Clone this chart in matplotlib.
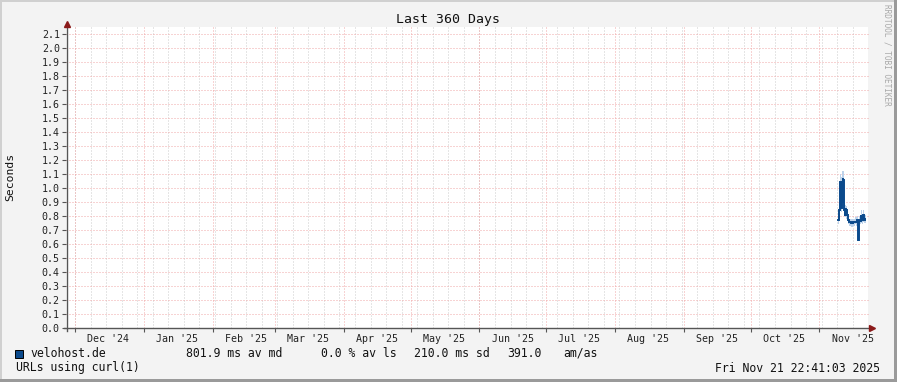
import matplotlib
matplotlib.use("Agg")
import matplotlib.pyplot as plt
from matplotlib.lines import Line2D
from matplotlib.patches import Rectangle
import pandas as pd

# ---------------- data ----------------
title = "Last 360 Days"
ylabel = "Seconds"
end_time = pd.Timestamp("2025-11-21 22:41:03")
span_days = 360

times = [
    "2025-11-09 12:00", "2025-11-09 21:36", "2025-11-10 07:12", "2025-11-10 12:00",
    "2025-11-10 16:48", "2025-11-10 21:36", "2025-11-11 02:24", "2025-11-11 07:12",
    "2025-11-11 12:00", "2025-11-11 16:48", "2025-11-11 21:36", "2025-11-12 02:24",
    "2025-11-12 07:12", "2025-11-12 12:00", "2025-11-12 16:48", "2025-11-12 21:36",
    "2025-11-13 02:24", "2025-11-13 07:12", "2025-11-13 12:00", "2025-11-13 16:48",
    "2025-11-13 21:36", "2025-11-14 04:48", "2025-11-14 19:12", "2025-11-15 09:36",
    "2025-11-15 21:36", "2025-11-16 07:12", "2025-11-16 19:12", "2025-11-17 07:12",
    "2025-11-17 16:48", "2025-11-18 04:48", "2025-11-18 09:36", "2025-11-18 21:36",
    "2025-11-19 07:12", "2025-11-19 14:24", "2025-11-19 21:36", "2025-11-20 04:48",
    "2025-11-20 12:00", "2025-11-20 20:00", "2025-11-21 03:00", "2025-11-21 12:00",
]
values = [
    0.77, 0.84, 1.04, 0.85, 1.03, 0.86, 1.05, 0.90, 1.07, 1.06,
    0.95, 0.84, 0.86, 0.80, 0.85, 0.82, 0.84, 0.80, 0.81, 0.79,
    0.77, 0.755, 0.755, 0.75, 0.74, 0.755, 0.76, 0.755, 0.77, 0.765,
    0.63, 0.77, 0.765, 0.81, 0.795, 0.77, 0.81, 0.795, 0.77, 0.78,
]
values_min = [
    0.74, 0.78, 0.84, 0.82, 0.84, 0.83, 0.85, 0.86, 0.90, 0.92,
    0.85, 0.80, 0.80, 0.78, 0.79, 0.78, 0.78, 0.77, 0.77, 0.75,
    0.74, 0.73, 0.73, 0.72, 0.72, 0.73, 0.74, 0.73, 0.74, 0.74,
    0.62, 0.74, 0.74, 0.76, 0.75, 0.74, 0.76, 0.75, 0.75, 0.75,
]
values_max = [
    0.79, 0.88, 1.10, 1.08, 1.10, 1.08, 1.12, 1.12, 1.13, 1.12,
    1.08, 0.90, 0.90, 0.88, 0.88, 0.87, 0.87, 0.85, 0.84, 0.82,
    0.80, 0.78, 0.78, 0.78, 0.77, 0.78, 0.79, 0.79, 0.80, 0.80,
    0.78, 0.80, 0.80, 0.84, 0.84, 0.80, 0.84, 0.83, 0.80, 0.81,
]

yticks = [0.0, 0.1, 0.2, 0.3, 0.4, 0.5, 0.6, 0.7, 0.8, 0.9, 1.0,
          1.1, 1.2, 1.3, 1.4, 1.5, 1.6, 1.7, 1.8, 1.9, 2.0, 2.1]
ymax = 2.15

month_labels = ["Dec '24", "Jan '25", "Feb '25", "Mar '25", "Apr '25", "May '25",
                "Jun '25", "Jul '25", "Aug '25", "Sep '25", "Oct '25", "Nov '25"]
month_label_dates = ["2024-12-16", "2025-01-16", "2025-02-16", "2025-03-16",
                     "2025-04-16", "2025-05-16", "2025-06-16", "2025-07-16",
                     "2025-08-16", "2025-09-16", "2025-10-16", "2025-11-16"]

legend_name = "velohost.de"
legend_parts = ["801.9 ms av md", "0.0 % av ls", "210.0 ms sd", "391.0", "am/as"]
footer_left = "URLs using curl(1)"
footer_right = "Fri Nov 21 22:41:03 2025"
watermark = "RRDTOOL / TOBI OETIKER"

# ---------------- style ----------------
W, H = 897, 382
MONO = "DejaVu Sans Mono"
line_color = "#0b4a8c"
band_color = "#bcd2ea"
major_grid = "#f0a8a8"
minor_grid = "#cdcdcd"
axis_color = "#555555"
arrow_color = "#8b1a1a"
bg = "#f3f3f3"
PX = 0.72  # one pixel in points at 100 dpi


def fx(px):
    return px / W


def fy(py):
    return 1 - py / H


fig = plt.figure(figsize=(W / 100, H / 100), dpi=100, facecolor=bg)

x0, x1, ytop, ybot = 66, 866, 27, 328
extra = 2  # white canvas goes slightly beyond the time axis
fig.add_artist(Rectangle((fx(x0), fy(ybot)), (x1 + extra - x0) / W, (ybot - ytop) / H,
                         transform=fig.transFigure, facecolor="white", lw=0, zorder=0))
ax = fig.add_axes([fx(x0), fy(ybot), (x1 - x0) / W, (ybot - ytop) / H])
ax.patch.set_alpha(0)

start_time = end_time - pd.Timedelta(days=span_days)
ax.set_xlim(start_time, end_time)
ax.set_ylim(0, ymax)

dot = (0, (1, 2))
# weekly grid (Sundays)
for d in pd.date_range(start_time.normalize(), end_time, freq="W-SUN"):
    if d > start_time:
        ax.axvline(d, color=minor_grid, lw=PX, ls=dot, zorder=1)
# month grid
month_starts = [d for d in pd.date_range(start_time.normalize(), end_time, freq="MS") if d > start_time]
for d in month_starts:
    ax.axvline(d, color=major_grid, lw=PX, ls=dot, zorder=1.5)
# horizontal grid
for v in yticks:
    if v > 0:
        ax.axhline(v, xmin=0, xmax=1 + extra / (x1 - x0), color=major_grid, lw=PX, ls=dot,
                   zorder=1.5, clip_on=False)

# data
t = list(pd.to_datetime(times)) + [end_time]
v_ext = values + [values[-1]]
lo_ext = values_min + [values_min[-1]]
hi_ext = values_max + [values_max[-1]]
ax.fill_between(t, lo_ext, hi_ext, step="post", color=band_color, lw=0, zorder=2)
ax.plot(t, v_ext, drawstyle="steps-post", color=line_color, lw=1.4, zorder=3,
        solid_joinstyle="miter")

# ticks
ax.set_yticks(yticks)
ax.set_yticklabels([f"{v:.1f}" for v in yticks], fontsize=7.2, family=MONO, color="#222222")
ax.tick_params(axis="y", length=3, width=0.8, color=axis_color, pad=1.5)
ax.set_xticks(pd.to_datetime(month_label_dates))
ax.set_xticklabels(month_labels, fontsize=7.2, family=MONO, color="#222222")
ax.tick_params(axis="x", which="major", length=0, pad=4)
ax.set_xticks(month_starts, minor=True)
ax.tick_params(axis="x", which="minor", length=3, width=0.8, color=axis_color)

for s in ax.spines.values():
    s.set_visible(False)

# axis lines with arrows
ax_x = 67
fig.add_artist(Line2D([fx(ax_x), fx(ax_x)], [fy(ybot + 3), fy(24)], transform=fig.transFigure,
                      color=axis_color, lw=1.0))
fig.add_artist(Line2D([fx(ax_x - 3), fx(871)], [fy(ybot), fy(ybot)], transform=fig.transFigure,
                      color=axis_color, lw=1.0))
fig.add_artist(Line2D([fx(ax_x)], [fy(23.5)], transform=fig.transFigure, marker="^",
                      markersize=4.5, color=arrow_color, lw=0))
fig.add_artist(Line2D([fx(871.5)], [fy(ybot)], transform=fig.transFigure, marker=">",
                      markersize=4.5, color=arrow_color, lw=0))

# texts
fig.text(fx(448), fy(19), title, ha="center", va="center", fontsize=9.5, family=MONO, color="#111111")
fig.text(fx(10), fy(177), ylabel, ha="center", va="center", rotation=90, fontsize=8.2,
         family=MONO, color="#111111")
fig.text(fx(887), fy(4), watermark, ha="center", va="top", rotation=-90, fontsize=5.6,
         family=MONO, color="#a8a8a8")

# legend
fig.add_artist(Rectangle((fx(15), fy(357.5)), 8 / W, 8 / H, transform=fig.transFigure,
                         facecolor=line_color, edgecolor="black", lw=0.7))
fig.text(fx(30), fy(353.5), legend_name, ha="left", va="center", fontsize=8.3, family=MONO, color="#111111")
for part, px in zip(legend_parts, [186, 321, 414, 507, 563]):
    fig.text(fx(px), fy(353.5), part, ha="left", va="center", fontsize=8.3, family=MONO, color="#111111")
fig.text(fx(16), fy(368), footer_left, ha="left", va="center", fontsize=8.3, family=MONO, color="#111111")
fig.text(fx(880), fy(368), footer_right, ha="right", va="center", fontsize=8.3, family=MONO, color="#111111")

# frame border (3D)
fig.add_artist(Rectangle((0, fy(2)), 1, 2 / H, transform=fig.transFigure, facecolor="#d0d0d0", lw=0))
fig.add_artist(Rectangle((0, 0), 2 / W, 1, transform=fig.transFigure, facecolor="#d0d0d0", lw=0))
fig.add_artist(Rectangle((0, 0), 1, 3 / H, transform=fig.transFigure, facecolor="#9a9a9a", lw=0))
fig.add_artist(Rectangle((1 - 3 / W, 0), 3 / W, 1, transform=fig.transFigure, facecolor="#9a9a9a", lw=0))

fig.savefig("out.png", dpi=100, facecolor=bg)
